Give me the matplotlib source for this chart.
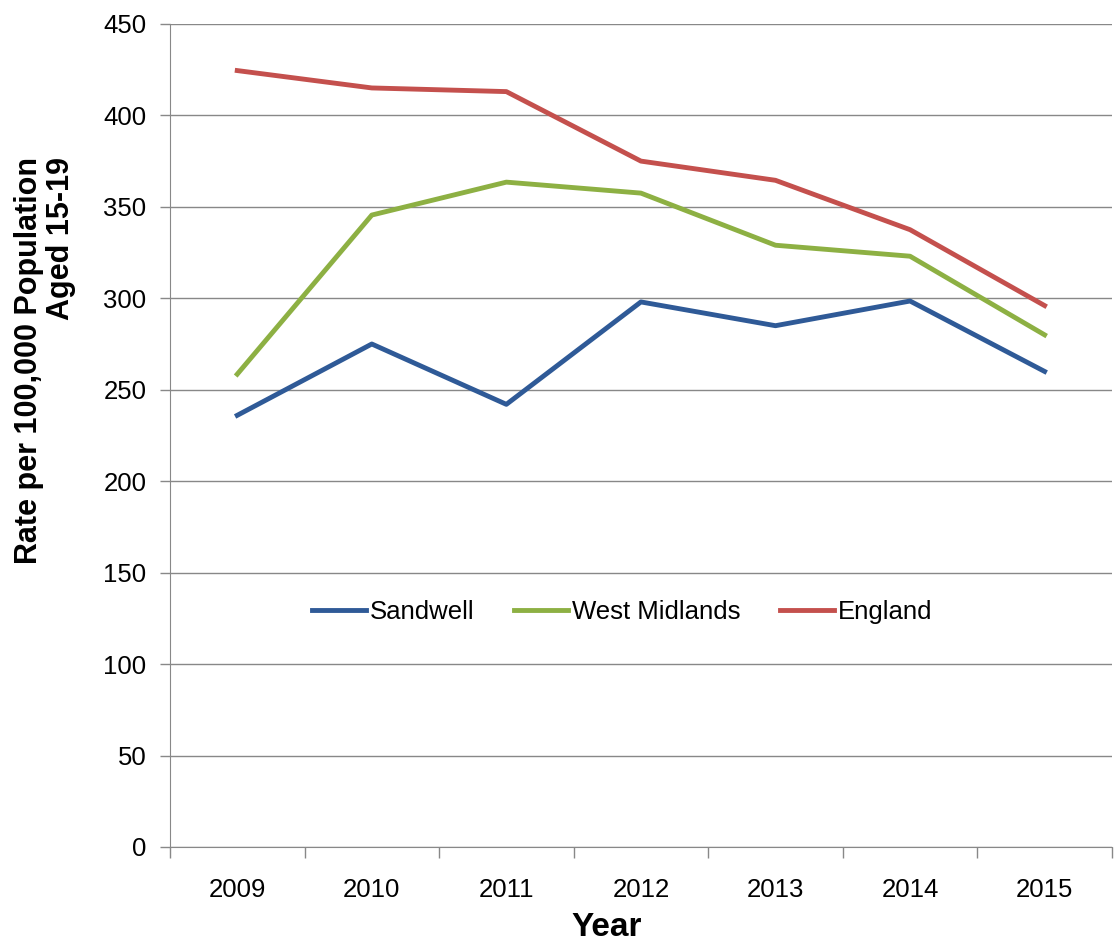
import matplotlib.pyplot as plt
import numpy as np

years = ['2009', '2010', '2011', '2012', '2013', '2014', '2015']
sandwell = [236, 275, 242, 298, 285, 298.5, 260]
west_midlands = [258.5, 345.5, 363.5, 357.5, 329, 323, 280]
england = [424.5, 415, 413, 375, 364.5, 337.5, 296]

plt.rcParams['font.family'] = ['Liberation Sans', 'DejaVu Sans']

fig = plt.figure(figsize=(11.16, 9.46), dpi=100)
ax = fig.add_axes([0.1523, 0.1047, 0.844, 0.87])

x = np.arange(len(years))
ax.plot(x, sandwell, color='#2F5A97', lw=3.5, label='Sandwell')
ax.plot(x, west_midlands, color='#8DB043', lw=3.5, label='West Midlands')
ax.plot(x, england, color='#C4504D', lw=3.5, label='England')

ax.set_xlim(-0.5, len(years) - 0.5)
ax.set_ylim(0, 450)
ax.set_yticks(np.arange(0, 451, 50))
ax.grid(axis='y', color='#888888', lw=1)
ax.set_axisbelow(True)

# category labels in the middle, tick marks on the boundaries
ax.set_xticks(x)
ax.set_xticklabels(years, fontsize=18.5)
ax.tick_params(axis='x', length=0, pad=22)
ax.set_xticks(np.arange(-0.5, len(years)), minor=True)
ax.tick_params(axis='x', which='minor', length=8, color='#888888', width=1)
ax.tick_params(axis='y', length=7, color='#888888', width=1, labelsize=18.5, pad=10)

for s in ['top', 'right']:
    ax.spines[s].set_visible(False)
for s in ['left', 'bottom']:
    ax.spines[s].set_color('#888888')

# axis titles placed like the Excel original
fig.text(607 / 1116, 3 / 946, 'Year', fontsize=24, fontweight='bold',
         ha='center', va='bottom')
fig.text(45 / 1116, 1 - 360 / 946, 'Rate per 100,000 Population\nAged 15-19',
         fontsize=22, fontweight='bold', rotation=90, ha='center', va='center',
         multialignment='right', linespacing=1.05)

ax.legend(loc='center', bbox_to_anchor=(0.48, 0.2855), ncol=3, frameon=False,
          fontsize=18.5, handlelength=2.1, handletextpad=0.15, columnspacing=1.55)

plt.savefig('out.png', dpi=100)
